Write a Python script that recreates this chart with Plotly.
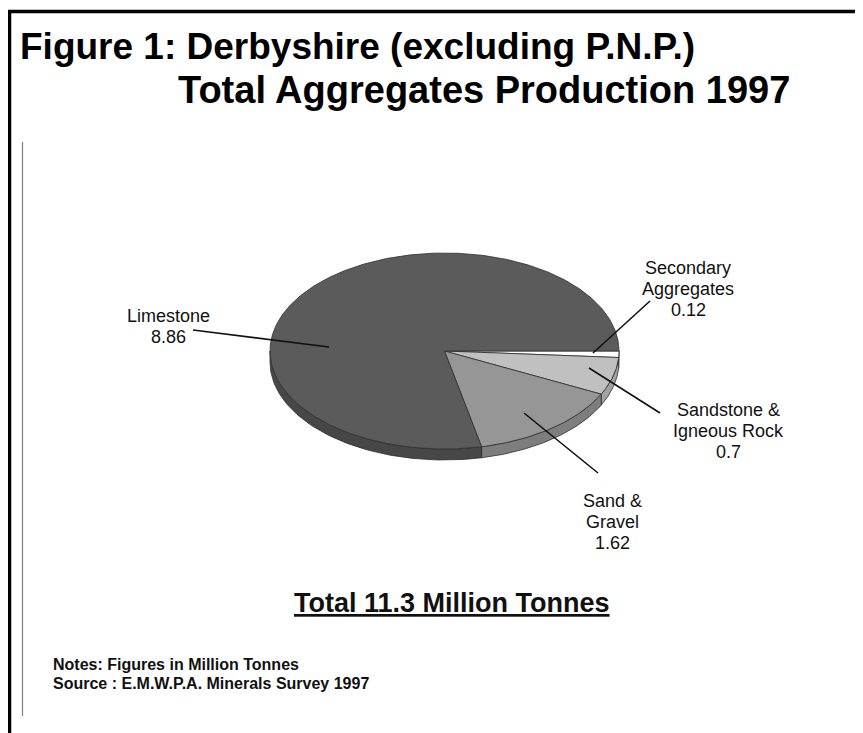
import numpy as np
import plotly.graph_objects as go

# ---------------- data ----------------
categories = ["Secondary Aggregates", "Sandstone & Igneous Rock", "Sand & Gravel", "Limestone"]
label_lines = [["Secondary", "Aggregates"], ["Sandstone &", "Igneous Rock"], ["Sand &", "Gravel"], ["Limestone"]]
values = [0.12, 0.7, 1.62, 8.86]
top_colors = ["#ffffff", "#c0c0c0", "#969696", "#5b5b5b"]
side_colors = ["#d4d4d4", "#a2a2a2", "#7e7e7e", "#474747"]

title_line1 = "Figure 1: Derbyshire (excluding P.N.P.)"
title_line2 = "Total Aggregates Production 1997"
notes = ["Notes: Figures in Million Tonnes", "Source : E.M.W.P.A. Minerals Survey 1997"]

# ---------------- layout geometry (window pixels) ----------------
W, H = 863, 733
OFF = 8  # default page body margin
cx, cy, rx, ry, depth = 444.5, 351.0, 174.5, 98.0, 11.0
FONT = "Liberation Sans, Arial, sans-serif"

# label placement: (center x, first line center y)
label_pos = [(688, 267.5), (728, 409.5), (612, 501), (168, 316)]
line_step = 21
# leader lines: (inner x, inner y, outer x, outer y)
leaders = [(593, 353, 650, 301), (589, 368, 660, 413), (524, 413, 598, 473), (329, 347, 193, 330)]

fig = go.Figure()

total = sum(values)
bounds = np.concatenate([[0], np.cumsum(values) / total * 360.0])


def arc(a0, a1, dy=0.0, n=80):
    t = np.radians(np.linspace(a0, a1, n))
    return cx + rx * np.cos(t), cy + ry * np.sin(t) + dy

# side walls (front half, 0..180 deg going clockwise on screen)
for i in range(len(values)):
    a0, a1 = bounds[i], bounds[i + 1]
    s0, s1 = max(a0, 0), min(a1, 180)
    if s1 <= s0:
        continue
    xt, yt = arc(s0, s1)
    xb, yb = arc(s1, s0, depth)
    fig.add_trace(go.Scatter(
        x=np.concatenate([xt, xb, xt[:1]]), y=np.concatenate([yt, yb, yt[:1]]),
        mode="lines", fill="toself", fillcolor=side_colors[i],
        line=dict(color="#2e2e2e", width=0.8), hoverinfo="skip", showlegend=False))

# top surfaces
for i in range(len(values)):
    a0, a1 = bounds[i], bounds[i + 1]
    xa, ya = arc(a0, a1, 0, max(8, int((a1 - a0) * 1.5)))
    fig.add_trace(go.Scatter(
        x=np.concatenate([[cx], xa, [cx]]), y=np.concatenate([[cy], ya, [cy]]),
        mode="lines", fill="toself", fillcolor=top_colors[i],
        line=dict(color="#2e2e2e", width=0.8), hoverinfo="skip", showlegend=False,
        name=categories[i]))

shapes = []
# leader lines
for (x0, y0, x1, y1) in leaders:
    shapes.append(dict(type="line", xref="x", yref="y", x0=x0, y0=y0, x1=x1, y1=y1,
                       line=dict(color="#111111", width=1.6)))
# outer thick border (left and top)
shapes.append(dict(type="line", xref="x", yref="y", x0=9.5, y0=10, x1=9.5, y1=H,
                   line=dict(color="black", width=3.5)))
shapes.append(dict(type="line", xref="x", yref="y", x0=8, y0=11.5, x1=W, y1=11.5,
                   line=dict(color="black", width=3.5)))
# thin inner frame lines
shapes.append(dict(type="line", xref="x", yref="y", x0=22.5, y0=142, x1=22.5, y1=716,
                   line=dict(color="#808080", width=1.2)))
shapes.append(dict(type="line", xref="x", yref="y", x0=861.5, y0=142, x1=861.5, y1=716,
                   line=dict(color="#808080", width=1.2)))

annotations = []
# slice labels
for i in range(len(values)):
    lx, ly = label_pos[i]
    lines = label_lines[i] + [f"{values[i]:g}"]
    for k, txt in enumerate(lines):
        annotations.append(dict(x=lx, y=ly + k * line_step, xref="x", yref="y", text=txt,
                                showarrow=False, xanchor="center", yanchor="middle",
                                font=dict(family=FONT, size=18, color="#111111")))
# titles
annotations.append(dict(x=18, y=46, xref="x", yref="y", text="<b>" + title_line1 + "</b>",
                        showarrow=False, xanchor="left", yanchor="middle",
                        font=dict(family=FONT, size=37, color="black")))
annotations.append(dict(x=176, y=90, xref="x", yref="y", text="<b>" + title_line2 + "</b>",
                        showarrow=False, xanchor="left", yanchor="middle",
                        font=dict(family=FONT, size=38, color="black")))
# total
annotations.append(dict(x=452, y=603, xref="x", yref="y",
                        text=f"<b><u>Total {total:.1f} Million Tonnes</u></b>",
                        showarrow=False, xanchor="center", yanchor="middle",
                        font=dict(family=FONT, size=27, color="#111111")))
# notes
for k, txt in enumerate(notes):
    annotations.append(dict(x=51, y=664 + k * 19, xref="x", yref="y", text="<b>" + txt + "</b>",
                            showarrow=False, xanchor="left", yanchor="middle",
                            font=dict(family=FONT, size=16, color="#111111")))

fig.update_layout(
    width=W - OFF, height=H - OFF, margin=dict(l=0, r=0, t=0, b=0, pad=0),
    paper_bgcolor="white", plot_bgcolor="white",
    xaxis=dict(range=[OFF, W], visible=False, fixedrange=True),
    yaxis=dict(range=[H, OFF], visible=False, fixedrange=True),
    shapes=shapes, annotations=annotations, showlegend=False,
)

fig.write_html("out.html")
